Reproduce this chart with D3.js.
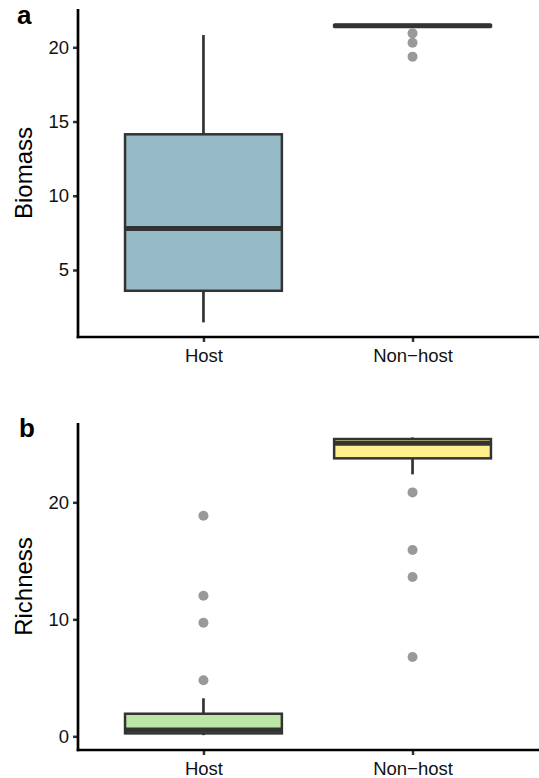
<!DOCTYPE html>
<html lang="en">
    <head>
        <meta charset="utf-8">
        <title>Biomass and richness</title>
        <script type="text/javascript" src="https://cdn.jsdelivr.net/npm/d3@7"></script>
        <style type="text/css">
        body { margin: 0; background: #fff; }
        svg text { font-family: "Liberation Sans", Arial, Helvetica, sans-serif; }
        </style>
    </head>
    <body>
        <script type="text/javascript">
        // values
        var categories = ["Host", "Non\u2212host"];

        var biomassLower  = [1.47, 21.4];
        var biomassQ1     = [3.6, 21.4];
        var biomassMedian = [7.8, 21.45];
        var biomassQ3     = [14.14, 21.5];
        var biomassUpper  = [20.83, 21.5];
        var biomassOutliers = [[], [20.94, 20.31, 19.37]];
        var biomassTicks = [5, 10, 15, 20];

        var richnessLower  = [0.1, 22.39];
        var richnessQ1     = [0.25, 23.76];
        var richnessMedian = [0.55, 25.04];
        var richnessQ3     = [1.93, 25.41];
        var richnessUpper  = [3.25, 25.55];
        var richnessOutliers = [[18.85, 12.02, 9.71, 4.79], [20.85, 15.92, 13.62, 6.78]];
        var richnessTicks = [0, 10, 20];

        var itemWidth = 539;
        var itemHeight = 778;

        var svg = d3.select("body")
        .append("svg")
        .attr("width", itemWidth)
        .attr("height", itemHeight);

        function panel(opts) {
            var g = svg.append("g");
            var left = 78, right = 538;

            var x = d3.scalePoint()
            .domain(categories)
            .range([left, right])
            .padding(0.6);
            var boxW = x.step() * 0.75;

            var y = d3.scaleLinear()
            .domain(opts.domain)
            .range([opts.bottom, opts.top]);

            var rows = categories.map(function(c, i) {
                return {
                    cat: c, lo: opts.lower[i], q1: opts.q1[i], med: opts.median[i],
                    q3: opts.q3[i], hi: opts.upper[i], out: opts.outliers[i], fill: opts.fills[i]
                };
            });

            // whiskers
            g.selectAll("line.wu").data(rows).enter().append("line")
            .attr("x1", function(d) { return x(d.cat); })
            .attr("x2", function(d) { return x(d.cat); })
            .attr("y1", function(d) { return y(d.q3); })
            .attr("y2", function(d) { return y(d.hi); })
            .attr("stroke", "#333").attr("stroke-width", 2.7);
            g.selectAll("line.wl").data(rows).enter().append("line")
            .attr("x1", function(d) { return x(d.cat); })
            .attr("x2", function(d) { return x(d.cat); })
            .attr("y1", function(d) { return y(d.q1); })
            .attr("y2", function(d) { return y(d.lo); })
            .attr("stroke", "#333").attr("stroke-width", 2.7);

            // boxes
            g.selectAll("rect.box").data(rows).enter().append("rect")
            .attr("x", function(d) { return x(d.cat) - boxW / 2; })
            .attr("width", boxW)
            .attr("y", function(d) { return y(d.q3); })
            .attr("height", function(d) { return Math.max(0, y(d.q1) - y(d.q3)); })
            .attr("fill", function(d) { return d.fill; })
            .attr("stroke", "#333").attr("stroke-width", 2.5);

            // medians
            g.selectAll("line.med").data(rows).enter().append("line")
            .attr("x1", function(d) { return x(d.cat) - boxW / 2; })
            .attr("x2", function(d) { return x(d.cat) + boxW / 2; })
            .attr("y1", function(d) { return y(d.med); })
            .attr("y2", function(d) { return y(d.med); })
            .attr("stroke", "#333").attr("stroke-width", 5);

            // outliers
            var pts = [];
            rows.forEach(function(d) {
                d.out.forEach(function(v) { pts.push({ cat: d.cat, v: v }); });
            });
            g.selectAll("circle").data(pts).enter().append("circle")
            .attr("cx", function(d) { return x(d.cat); })
            .attr("cy", function(d) { return y(d.v); })
            .attr("r", 5)
            .attr("fill", "#999");

            // axes
            var yAxis = g.append("g")
            .attr("transform", "translate(" + left + ",0)")
            .call(d3.axisLeft(y).tickValues(opts.ticks).tickSize(5).tickPadding(4));
            var xAxis = g.append("g")
            .attr("transform", "translate(0," + opts.bottom + ")")
            .call(d3.axisBottom(x).tickSize(5).tickPadding(6.5));

            [yAxis, xAxis].forEach(function(a) {
                a.select(".domain").remove();
                a.selectAll(".tick line").attr("stroke", "#333").attr("stroke-width", 2.5);
                a.selectAll(".tick text").attr("fill", "#111").attr("font-size", "18.5px");
            });

            g.append("line")
            .attr("x1", left).attr("x2", left)
            .attr("y1", opts.top).attr("y2", opts.bottom + 1.3)
            .attr("stroke", "#000").attr("stroke-width", 2.7);
            g.append("line")
            .attr("x1", left - 1.3).attr("x2", itemWidth)
            .attr("y1", opts.bottom).attr("y2", opts.bottom)
            .attr("stroke", "#000").attr("stroke-width", 2.7);

            // titles
            g.append("text")
            .attr("transform", "translate(32," + (opts.top + opts.bottom) / 2 + ") rotate(-90)")
            .attr("text-anchor", "middle")
            .attr("font-size", "24px")
            .attr("fill", "#000")
            .text(opts.title);
            g.append("text")
            .attr("x", opts.letterX).attr("y", opts.letterY)
            .attr("font-size", "26px")
            .attr("font-weight", "bold")
            .attr("fill", "#000")
            .text(opts.letter);
        }

        panel({
            top: 9, bottom: 337, domain: [0.487, 22.58], ticks: biomassTicks,
            lower: biomassLower, q1: biomassQ1, median: biomassMedian, q3: biomassQ3,
            upper: biomassUpper, outliers: biomassOutliers,
            fills: ["#97bbc6", "#97bbc6"], title: "Biomass", letter: "a", letterX: 17, letterY: 24
        });

        panel({
            top: 423, bottom: 750, domain: [-1.17, 26.78], ticks: richnessTicks,
            lower: richnessLower, q1: richnessQ1, median: richnessMedian, q3: richnessQ3,
            upper: richnessUpper, outliers: richnessOutliers,
            fills: ["#bbe6a5", "#fff08f"], title: "Richness", letter: "b", letterX: 19, letterY: 437
        });
        </script>
    </body>
</html>
